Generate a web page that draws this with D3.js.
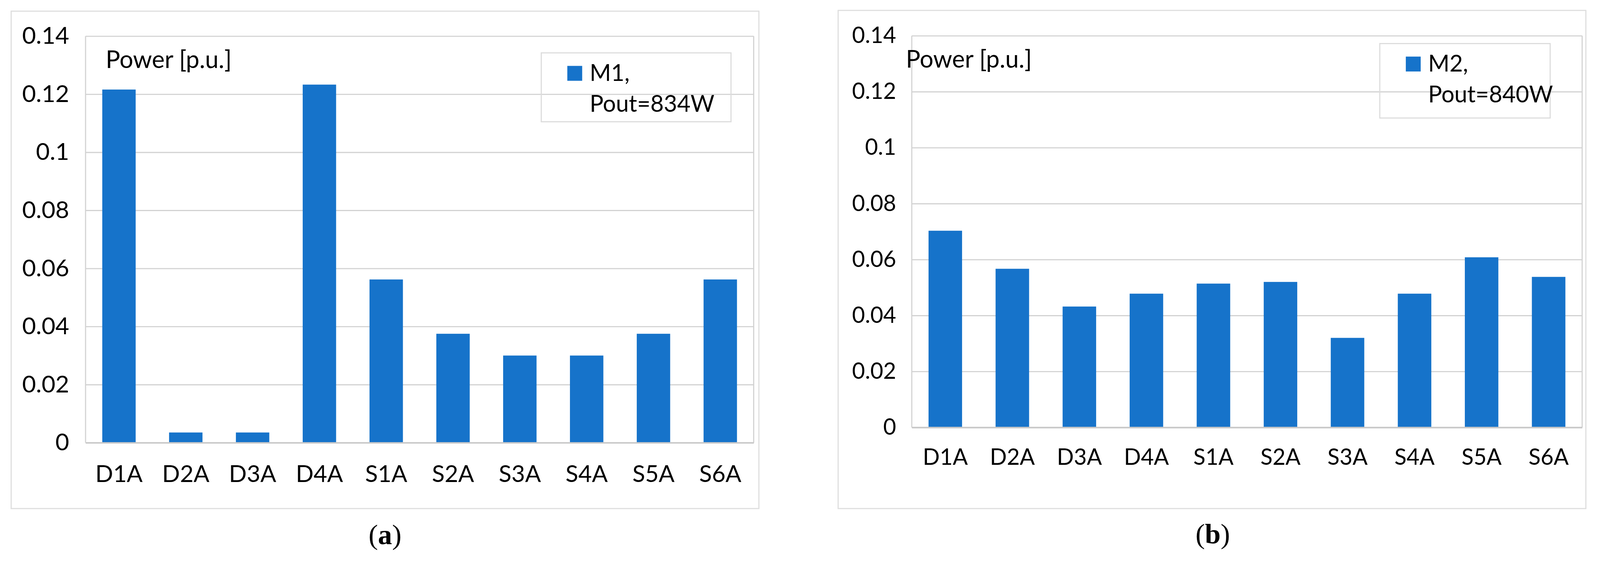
<!DOCTYPE html>
<html>
<head>
<meta charset="utf-8">
<script src="https://cdnjs.cloudflare.com/ajax/libs/d3/7.8.5/d3.min.js"></script>
<style>
  html, body { margin: 0; padding: 0; background: #fff; overflow: hidden; }
  svg { display: block; width: 100vw; height: 100vh; }
</style>
</head>
<body>
<div id="chart"></div>
<script>
// values
const categories = ["D1A", "D2A", "D3A", "D4A", "S1A", "S2A", "S3A", "S4A", "S5A", "S6A"];
const m1Power = [0.1216, 0.0035, 0.0035, 0.1233, 0.0562, 0.0375, 0.030, 0.030, 0.0375, 0.0562];
const m2Power = [0.0703, 0.0567, 0.0432, 0.0478, 0.0514, 0.052, 0.032, 0.0478, 0.0608, 0.0538];
const yTicks = [0, 0.02, 0.04, 0.06, 0.08, 0.1, 0.12, 0.14];
const yTickLabels = ["0", "0.02", "0.04", "0.06", "0.08", "0.1", "0.12", "0.14"];
const seriesNames = ["M1,", "M2,"];
const seriesNotes = ["Pout=834W", "Pout=840W"];
const captions = ["a", "b"];

const width = 4301;
const height = 1499;
const barColor = "#1673ca";
const gridColor = "#d2d2d2";
const font = "Lato, 'Open Sans', sans-serif";

// layout of the two panels
const panels = [
  {
    values: m1Power, name: seriesNames[0], note: seriesNotes[0], caption: captions[0],
    frame: { x: 30, y: 30, w: 2010, h: 1336 },
    plot: { left: 230, right: 2026, top: 97, bottom: 1189 },
    tickSize: 64, catSize: 63, labelSize: 65, legendSize: 62,
    tickGap: 44, catDy: 106, powerX: 54, powerY: 183,
    legend: { x: 1455, y: 142, w: 510, h: 185 },
    capX: 1035, capY: 1462
  },
  {
    values: m2Power, name: seriesNames[1], note: seriesNotes[1], caption: captions[1],
    frame: { x: 2253, y: 28, w: 2010, h: 1338 },
    plot: { left: 2451, right: 4253, top: 96, bottom: 1148 },
    tickSize: 60, catSize: 60, labelSize: 65, legendSize: 62,
    tickGap: 42, catDy: 100, powerX: -16, powerY: 182,
    legend: { x: 3709, y: 117, w: 458, h: 200 },
    capX: 3260, capY: 1460
  }
];

const svg = d3
  .select("#chart")
  .append("svg")
  .attr("viewBox", "0 0 " + width + " " + height)
  .attr("preserveAspectRatio", "xMinYMin meet");

svg.append("rect").attr("width", width).attr("height", height).attr("fill", "#fff");

const drawPanel = (p) => {
  const g = svg.append("g");

  // outer chart frame
  g.append("rect")
    .attr("x", p.frame.x)
    .attr("y", p.frame.y)
    .attr("width", p.frame.w)
    .attr("height", p.frame.h)
    .attr("fill", "none")
    .attr("stroke", "#dedede")
    .attr("stroke-width", 3);

  const x = d3
    .scaleBand()
    .domain(categories)
    .range([p.plot.left, p.plot.right])
    .paddingInner(0.5)
    .paddingOuter(0.25);

  const y = d3
    .scaleLinear()
    .domain([0, 0.14])
    .range([p.plot.bottom, p.plot.top]);

  // gridlines + tick labels
  const yAxis = d3
    .axisLeft(y)
    .tickValues(yTicks)
    .tickFormat((d, i) => yTickLabels[i])
    .tickSize(-(p.plot.right - p.plot.left))
    .tickPadding(p.tickGap);

  const yg = g
    .append("g")
    .attr("transform", "translate(" + p.plot.left + ",0)")
    .call(yAxis);
  yg.select(".domain").remove();
  yg.selectAll(".tick line").attr("stroke", gridColor).attr("stroke-width", 3);
  yg.selectAll(".tick text")
    .attr("fill", "#000")
    .style("font-family", font)
    .style("font-size", p.tickSize + "px");

  // plot area sides
  g.append("line")
    .attr("x1", p.plot.left).attr("x2", p.plot.left)
    .attr("y1", p.plot.top).attr("y2", p.plot.bottom)
    .attr("stroke", gridColor).attr("stroke-width", 3);
  g.append("line")
    .attr("x1", p.plot.right).attr("x2", p.plot.right)
    .attr("y1", p.plot.top).attr("y2", p.plot.bottom)
    .attr("stroke", gridColor).attr("stroke-width", 3);

  // bars
  g.append("g")
    .selectAll("rect")
    .data(p.values)
    .enter()
    .append("rect")
    .attr("x", (d, i) => x(categories[i]))
    .attr("y", (d) => y(d))
    .attr("width", x.bandwidth())
    .attr("height", (d) => y(0) - y(d))
    .attr("fill", barColor);

  // category axis
  const xAxis = d3.axisBottom(x).tickSize(0).tickPadding(p.catDy - 40);
  const xg = g
    .append("g")
    .attr("transform", "translate(0," + p.plot.bottom + ")")
    .call(xAxis);
  xg.select(".domain").attr("stroke", "#c8c8c8").attr("stroke-width", 4);
  xg.selectAll(".tick text")
    .attr("fill", "#000")
    .attr("dy", null)
    .attr("y", p.catDy)
    .attr("dominant-baseline", "alphabetic")
    .style("font-family", font)
    .style("font-size", p.catSize + "px");

  // unit label inside the plot
  g.append("text")
    .attr("x", p.plot.left + p.powerX)
    .attr("y", p.powerY)
    .style("font-family", font)
    .style("font-size", p.labelSize + "px")
    .text("Power [p.u.]");

  // legend
  const lg = g.append("g");
  lg.append("rect")
    .attr("x", p.legend.x)
    .attr("y", p.legend.y)
    .attr("width", p.legend.w)
    .attr("height", p.legend.h)
    .attr("fill", "none")
    .attr("stroke", "#dcdcdc")
    .attr("stroke-width", 3);
  lg.append("rect")
    .attr("x", p.legend.x + 70)
    .attr("y", p.legend.y + 35)
    .attr("width", 40)
    .attr("height", 40)
    .attr("fill", barColor);
  lg.append("text")
    .attr("x", p.legend.x + 130)
    .attr("y", p.legend.y + 75)
    .style("font-family", font)
    .style("font-size", p.legendSize + "px")
    .text(p.name);
  lg.append("text")
    .attr("x", p.legend.x + 130)
    .attr("y", p.legend.y + 158)
    .style("font-family", font)
    .style("font-size", p.legendSize + "px")
    .text(p.note);

  // panel caption, e.g. (a)
  const cap = g
    .append("text")
    .attr("x", p.capX)
    .attr("y", p.capY)
    .attr("text-anchor", "middle")
    .style("font-family", "'Liberation Serif', 'DejaVu Serif', serif")
    .style("font-size", "76px");
  cap.append("tspan").text("(");
  cap.append("tspan").style("font-weight", "bold").text(p.caption);
  cap.append("tspan").text(")");
};

for (let p of panels) {
  drawPanel(p);
}
</script>
</body>
</html>
